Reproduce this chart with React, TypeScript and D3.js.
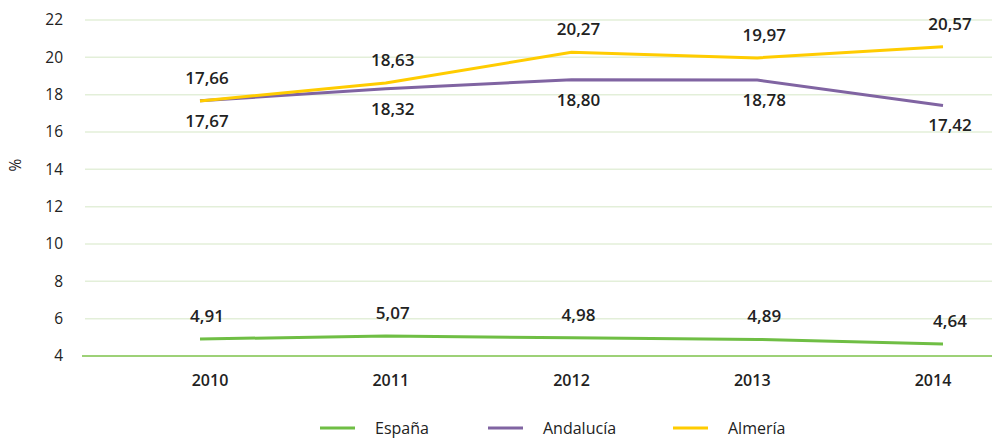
import React from 'react';
import { scaleLinear, scalePoint, line } from 'd3';

const years = ['2010', '2011', '2012', '2013', '2014'];
const espana = [4.91, 5.07, 4.98, 4.89, 4.64];
const andalucia = [17.67, 18.32, 18.8, 18.78, 17.42];
const almeria = [17.66, 18.63, 20.27, 19.97, 20.57];
const yTicks = [4, 6, 8, 10, 12, 14, 16, 18, 20, 22];

const series = [
  { name: 'España', values: espana, color: '#6fbe44', labelPos: 'above' },
  { name: 'Andalucía', values: andalucia, color: '#8064a2', labelPos: 'below' },
  { name: 'Almería', values: almeria, color: '#ffcc00', labelPos: 'above' },
];

const W = 992;
const H = 439;
const font = '"Open Sans", "Noto Sans", sans-serif';

const fmt = (v: number) => v.toFixed(2).replace('.', ',');

export default function App() {
  const y = scaleLinear().domain([4, 22]).range([356, 20]);
  // line points and category labels sit on slightly different spacing in the original
  const xLine = scalePoint().domain(years).range([200, 943]);
  const xCat = scalePoint().domain(years).range([210, 933]);

  const path = line<number>()
    .x((d, i) => xLine(years[i]) as number)
    .y(d => y(d));

  const legendX = [320, 488, 673];

  return (
    <svg width={W} height={H} style={{ position: 'absolute', left: 0, top: 0, fontFamily: font }}>
      {yTicks.filter(t => t !== 4).map(t => (
        <line key={t} x1={85} x2={W} y1={y(t)} y2={y(t)} stroke="#e3efd9" strokeWidth={1.5} />
      ))}
      <line x1={82} x2={W} y1={y(4)} y2={y(4)} stroke="#7cc24a" strokeWidth={1.5} />
      {yTicks.map(t => (
        <text key={t} x={63} y={y(t)} dy="0.35em" textAnchor="end" fontSize={15.5} fontWeight={500} fill="#222">{t}</text>
      ))}
      <text transform={`translate(21,165) rotate(-90)`} textAnchor="middle" fontSize={15.5} fontWeight={500} fill="#222">%</text>
      {years.map(yr => (
        <text key={yr} x={xCat(yr)} y={386} textAnchor="middle" fontSize={16} fontWeight={600} fill="#222">{yr}</text>
      ))}
      {series.map(s => (
        <path key={s.name} d={path(s.values) || ''} fill="none" stroke={s.color} strokeWidth={3} />
      ))}
      {series.map(s => s.values.map((v, i) => (
        <text key={s.name + i} x={(xLine(years[i]) as number) + 7}
          y={y(v) + (s.labelPos === 'above' ? -17 : 26)}
          textAnchor="middle" fontSize={17} fontWeight={600} fill="#222">{fmt(v)}</text>
      )))}
      {series.map((s, i) => (
        <g key={s.name} transform={`translate(${legendX[i]},428)`}>
          <line x1={0} x2={35} y1={0} y2={0} stroke={s.color} strokeWidth={3} />
          <text x={55} y={0} dy="0.35em" fontSize={16} fontWeight={500} fill="#222">{s.name}</text>
        </g>
      ))}
    </svg>
  );
}
